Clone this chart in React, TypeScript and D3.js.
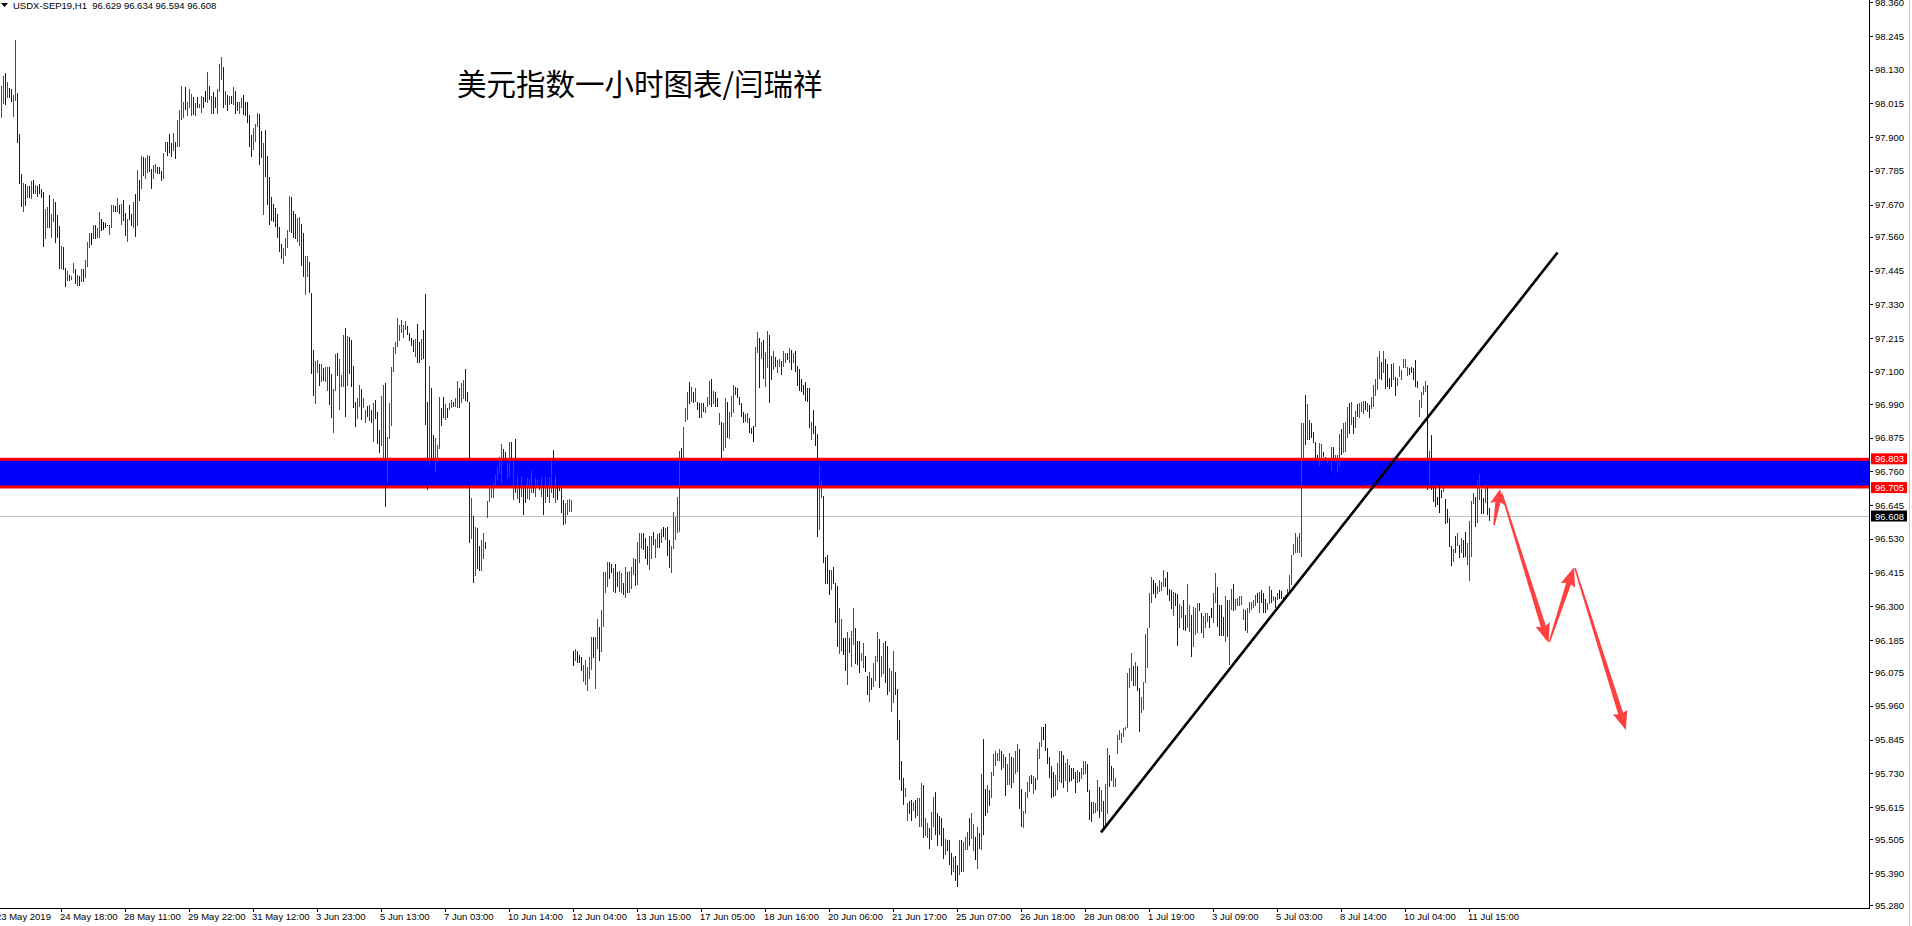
import React from "react";
import * as d3 from "d3";

// hourly bars (high / low per bar)
const highs = [
  // 0-208
  98.074, 98.11, 98.12, 98.088, 98.069, 98.065, 98.044, 98.232, 98.052, 97.912,
  97.775, 97.745, 97.739, 97.733, 97.734, 97.75, 97.753, 97.737, 97.733, 97.741,
  97.722, 97.712, 97.656, 97.661, 97.702, 97.639, 97.689, 97.679, 97.635, 97.597,
  97.529, 97.524, 97.455, 97.443, 97.43, 97.427, 97.472, 97.452, 97.43, 97.426,
  97.451, 97.451, 97.482, 97.543, 97.574, 97.574, 97.601, 97.601, 97.592, 97.645,
  97.622, 97.611, 97.608, 97.599, 97.6, 97.669, 97.669, 97.666, 97.694, 97.67,
  97.673, 97.686, 97.641, 97.622, 97.669, 97.638, 97.679, 97.705, 97.787, 97.754,
  97.837, 97.831, 97.828, 97.841, 97.835, 97.79, 97.806, 97.809, 97.797, 97.797,
  97.785, 97.845, 97.885, 97.885, 97.912, 97.881, 97.916, 97.882, 97.958, 97.994,
  98.075, 98.02, 98.071, 98.021, 98.066, 98.048, 98.036, 98.018, 98.036, 98.013,
  98.041, 98.037, 98.058, 98.122, 98.075, 98.041, 98.053, 98.036, 98.065, 98.15,
  98.173, 98.139, 98.058, 98.044, 98.042, 98.042, 98.071, 98.056, 98.021, 98.019,
  98.035, 98.044, 98.021, 98.021, 97.976, 97.909, 97.93, 97.944, 97.983, 97.979,
  97.92, 97.881, 97.923, 97.837, 97.764, 97.697, 97.673, 97.657, 97.639, 97.594,
  97.535, 97.523, 97.557, 97.584, 97.7, 97.697, 97.647, 97.639, 97.624, 97.627,
  97.603, 97.572, 97.494, 97.496, 97.474, 97.37, 97.175, 97.137, 97.139, 97.126,
  97.125, 97.114, 97.115, 97.117, 97.117, 97.091, 97.042, 97.161, 97.164, 97.144,
  97.089, 97.227, 97.25, 97.223, 97.218, 97.209, 97.12, 96.998, 97.011, 97.055,
  97.042, 97.011, 96.969, 96.983, 96.985, 96.969, 96.993, 97.003, 96.964, 96.902,
  97.016, 97.055, 97.061, 96.877, 96.992, 97.116, 97.184, 97.201, 97.284, 97.261,
  97.277, 97.261, 97.272, 97.255, 97.232, 97.216, 97.209, 97.211, 97.263,
  // 209-389
  97.203, 97.211, 97.242, 97.365, 96.996, 97.12, 97.043, 96.884, 96.873, 96.85,
  97.013, 96.978, 97.015, 96.99, 96.978, 96.992, 97.004, 96.998, 97.009, 97.07,
  97.046, 97.063, 97.072, 97.109, 97.032, 96.997, 96.669, 96.608, 96.572, 96.566,
  96.507, 96.526, 96.549, 96.518, 96.659, 96.714, 96.71, 96.719, 96.748, 96.774,
  96.81, 96.854, 96.837, 96.827, 96.79, 96.86, 96.86, 96.799, 96.871, 96.744,
  96.714, 96.744, 96.702, 96.71, 96.738, 96.735, 96.762, 96.719, 96.738, 96.731,
  96.708, 96.741, 96.719, 96.742, 96.71, 96.742, 96.799, 96.833, 96.744, 96.762,
  96.708, 96.704, 96.663, 96.651, 96.663, 96.665, 96.663, 96.149, 96.154, 96.149,
  96.134, 96.128, 96.1, 96.117, 96.092, 96.128, 96.194, 96.194, 96.194, 96.256,
  96.228, 96.287, 96.418, 96.416, 96.452, 96.452, 96.444, 96.43, 96.444, 96.418,
  96.421, 96.412, 96.378, 96.433, 96.418, 96.421, 96.435, 96.464, 96.46, 96.52,
  96.551, 96.551, 96.551, 96.532, 96.506, 96.54, 96.54, 96.555, 96.528, 96.547,
  96.551, 96.565, 96.572, 96.566, 96.572, 96.526, 96.507, 96.623, 96.606, 96.674,
  96.83, 96.839, 96.913, 96.975, 97.032, 97.064, 97.047, 97.032, 97.043, 96.998,
  96.995, 96.992, 96.995, 96.981, 97.015, 97.07, 97.075, 97.034, 97.032, 97.009,
  96.958, 96.93, 96.924, 97.009, 96.998, 96.964, 97.017, 97.055, 97.047, 97.043,
  97.015, 96.995, 96.964, 96.956, 96.96, 96.941, 96.907, 96.916, 97.186, 97.237,
  97.215, 97.203, 97.208, 97.169, 97.239, 97.225, 97.154, 97.172, 97.149, 97.14,
  97.145,
  // 390-559
  97.135, 97.17, 97.163, 97.165, 97.18, 97.174, 97.163, 97.172, 97.12, 97.109,
  97.077, 97.055, 97.064, 97.043, 97.044, 96.929, 96.97, 96.914, 96.887, 96.777,
  96.727, 96.675, 96.468, 96.474, 96.424, 96.423, 96.433, 96.378, 96.369, 96.294,
  96.256, 96.193, 96.193, 96.212, 96.193, 96.215, 96.294, 96.225, 96.18, 96.18,
  96.142, 96.174, 96.131, 96.064, 96.076, 96.057, 96.105, 96.131, 96.212, 96.19,
  96.129, 96.174, 96.18, 96.165, 96.089, 96.079, 96.146, 96.076, 96.019, 95.912,
  95.773, 95.716, 95.682, 95.63, 95.637, 95.641, 95.634, 95.641, 95.647, 95.647,
  95.697, 95.691, 95.577, 95.561, 95.543, 95.599, 95.649, 95.666, 95.596, 95.586,
  95.577, 95.543, 95.508, 95.504, 95.502, 95.46, 95.445, 95.447, 95.417, 95.504,
  95.502, 95.495, 95.514, 95.531, 95.577, 95.596, 95.558, 95.514, 95.546, 95.527,
  95.729, 95.849, 95.678, 95.691, 95.672, 95.735, 95.796, 95.808, 95.798, 95.814,
  95.805, 95.796, 95.786, 95.763, 95.801, 95.786, 95.783, 95.808, 95.83, 95.814,
  95.678, 95.603, 95.666, 95.7, 95.72, 95.725, 95.72, 95.713, 95.814, 95.836,
  95.889, 95.889, 95.9, 95.817, 95.786, 95.754, 95.735, 95.723, 95.767, 95.805,
  95.808, 95.792, 95.767, 95.779, 95.76, 95.748, 95.748, 95.735, 95.742, 95.735,
  95.748, 95.771, 95.773, 95.763, 95.672, 95.634, 95.634, 95.628, 95.707, 95.685,
  95.672, 95.637, 95.695, 95.817, 95.792, 95.754, 95.75, 95.716, 95.862, 95.877,
  // 560-650
  95.869, 95.884, 95.889, 96.074, 96.091, 96.142, 96.096, 96.111, 96.096, 96.023,
  95.992, 96.043, 96.205, 96.227, 96.344, 96.401, 96.39, 96.381, 96.369, 96.39,
  96.384, 96.424, 96.395, 96.418, 96.358, 96.356, 96.35, 96.344, 96.342, 96.307,
  96.301, 96.321, 96.27, 96.376, 96.304, 96.27, 96.299, 96.293, 96.31, 96.312,
  96.278, 96.267, 96.276, 96.276, 96.267, 96.293, 96.344, 96.412, 96.367, 96.304,
  96.304, 96.262, 96.335, 96.321, 96.321, 96.358, 96.376, 96.326, 96.327, 96.335,
  96.335, 96.29, 96.287, 96.293, 96.316, 96.316, 96.321, 96.338, 96.346, 96.35,
  96.356, 96.346, 96.324, 96.31, 96.369, 96.356, 96.335, 96.331, 96.346, 96.356,
  96.352, 96.331, 96.338, 96.359, 96.407, 96.475, 96.511, 96.551, 96.537, 96.551,
  96.925,
  // 651-744
  96.926, 97.021, 96.99, 96.935, 96.924, 96.896, 96.862, 96.816, 96.856, 96.854,
  96.827, 96.81, 96.805, 96.782, 96.844, 96.842, 96.816, 96.816, 96.888, 96.906,
  96.926, 96.93, 96.981, 96.992, 96.998, 96.944, 96.967, 96.99, 96.992, 96.998,
  97.001, 97.0, 96.995, 96.987, 97.015, 97.055, 97.074, 97.151, 97.172, 97.134,
  97.17, 97.144, 97.126, 97.078, 97.125, 97.131, 97.083, 97.078, 97.121, 97.106,
  97.142, 97.142, 97.115, 97.112, 97.117, 97.112, 97.14, 97.07, 97.004, 97.032,
  97.053, 97.07, 97.055, 96.831, 96.884, 96.708, 96.708, 96.674, 96.717, 96.697,
  96.708, 96.665, 96.632, 96.602, 96.506, 96.494, 96.54, 96.551, 96.509, 96.532,
  96.526, 96.554, 96.515, 96.592, 96.659, 96.685, 96.674, 96.731, 96.751, 96.699,
  96.668, 96.714, 96.708, 96.634,
];

const lows = [
  // 0-208
  97.964, 98.013, 98.01, 98.035, 98.035, 98.02, 97.97, 98.025, 97.879, 97.742,
  97.663, 97.644, 97.667, 97.694, 97.694, 97.689, 97.705, 97.708, 97.696, 97.708,
  97.694, 97.527, 97.553, 97.591, 97.592, 97.555, 97.612, 97.538, 97.555, 97.452,
  97.451, 97.448, 97.389, 97.409, 97.411, 97.413, 97.438, 97.401, 97.394, 97.394,
  97.407, 97.407, 97.42, 97.457, 97.521, 97.534, 97.553, 97.553, 97.555, 97.555,
  97.58, 97.582, 97.59, 97.596, 97.568, 97.589, 97.645, 97.645, 97.645, 97.639,
  97.599, 97.613, 97.564, 97.543, 97.619, 97.597, 97.592, 97.561, 97.596, 97.684,
  97.723, 97.769, 97.756, 97.779, 97.781, 97.722, 97.757, 97.779, 97.776, 97.773,
  97.75, 97.757, 97.848, 97.837, 97.847, 97.832, 97.852, 97.824, 97.865, 97.868,
  97.957, 97.966, 97.992, 97.971, 97.998, 97.974, 97.976, 97.974, 98.001, 97.998,
  97.983, 97.998, 98.021, 98.016, 98.028, 97.98, 97.98, 97.998, 97.98, 98.053,
  98.094, 97.999, 98.009, 97.991, 98.009, 98.013, 98.01, 97.98, 97.988, 97.98,
  97.998, 97.976, 97.974, 97.949, 97.868, 97.834, 97.857, 97.882, 97.935, 97.806,
  97.83, 97.633, 97.763, 97.669, 97.602, 97.613, 97.611, 97.594, 97.557, 97.507,
  97.486, 97.468, 97.496, 97.523, 97.578, 97.574, 97.556, 97.553, 97.543, 97.528,
  97.462, 97.422, 97.363, 97.422, 97.368, 97.094, 97.019, 96.991, 97.097, 97.05,
  97.064, 97.07, 97.066, 97.033, 96.987, 96.941, 96.89, 97.036, 97.085, 96.968,
  97.048, 97.048, 96.944, 97.05, 97.091, 97.048, 96.975, 96.91, 96.938, 96.979,
  96.936, 96.975, 96.926, 96.947, 96.931, 96.924, 96.862, 96.938, 96.853, 96.823,
  96.847, 96.804, 96.64, 96.72, 96.871, 96.916, 97.099, 97.16, 97.184, 97.204,
  97.231, 97.216, 97.243, 97.225, 97.204, 97.188, 97.166, 97.152, 97.13,
  // 209-389
  97.129, 97.14, 97.142, 96.918, 96.697, 96.782, 96.793, 96.799, 96.759, 96.788,
  96.835, 96.915, 96.941, 96.935, 96.941, 96.97, 96.975, 96.979, 96.981, 96.978,
  96.975, 96.992, 97.006, 97.001, 96.998, 96.517, 96.528, 96.378, 96.404, 96.428,
  96.422, 96.422, 96.46, 96.494, 96.602, 96.657, 96.668, 96.668, 96.711, 96.731,
  96.75, 96.719, 96.736, 96.742, 96.733, 96.74, 96.799, 96.663, 96.685, 96.665,
  96.653, 96.674, 96.611, 96.653, 96.665, 96.663, 96.688, 96.685, 96.674, 96.713,
  96.697, 96.674, 96.611, 96.653, 96.672, 96.651, 96.688, 96.668, 96.651, 96.663,
  96.694, 96.619, 96.578, 96.58, 96.611, 96.621, 96.623, 96.096, 96.115, 96.108,
  96.105, 96.08, 96.043, 96.032, 96.012, 96.051, 96.083, 96.123, 96.017, 96.153,
  96.115, 96.145, 96.228, 96.344, 96.365, 96.392, 96.415, 96.35, 96.347, 96.367,
  96.35, 96.347, 96.339, 96.327, 96.344, 96.344, 96.358, 96.407, 96.369, 96.373,
  96.447, 96.497, 96.492, 96.46, 96.441, 96.424, 96.462, 96.509, 96.464, 96.498,
  96.498, 96.515, 96.537, 96.526, 96.473, 96.43, 96.415, 96.494, 96.526, 96.549,
  96.552, 96.725, 96.799, 96.93, 96.935, 96.99, 96.998, 96.995, 96.998, 96.97,
  96.943, 96.943, 96.964, 96.96, 96.981, 96.987, 96.981, 96.99, 96.979, 96.981,
  96.918, 96.805, 96.831, 96.839, 96.873, 96.87, 96.947, 96.958, 97.021, 97.009,
  96.987, 96.945, 96.926, 96.93, 96.926, 96.89, 96.888, 96.862, 96.913, 97.165,
  97.043, 97.144, 97.074, 97.049, 97.112, 96.995, 97.072, 97.106, 97.115, 97.097,
  97.115,
  // 390-559
  97.09, 97.115, 97.129, 97.141, 97.129, 97.106, 97.129, 97.1, 97.053, 97.034,
  97.03, 97.02, 96.999, 96.996, 96.909, 96.868, 96.889, 96.847, 96.536, 96.56,
  96.67, 96.448, 96.376, 96.376, 96.339, 96.354, 96.376, 96.243, 96.161, 96.136,
  96.146, 96.133, 96.08, 96.032, 96.14, 96.092, 96.167, 96.102, 96.099, 96.073,
  96.114, 96.088, 96.076, 95.997, 95.973, 96.013, 96.026, 96.045, 96.11, 96.023,
  96.06, 96.07, 96.038, 95.997, 96.009, 95.94, 95.969, 95.997, 95.845, 95.706,
  95.67, 95.624, 95.651, 95.569, 95.59, 95.569, 95.603, 95.577, 95.584, 95.546,
  95.546, 95.51, 95.518, 95.51, 95.472, 95.504, 95.548, 95.521, 95.483, 95.521,
  95.483, 95.438, 95.451, 95.464, 95.419, 95.382, 95.394, 95.363, 95.341, 95.382,
  95.394, 95.394, 95.47, 95.47, 95.483, 95.508, 95.467, 95.435, 95.404, 95.472,
  95.47, 95.521, 95.584, 95.596, 95.619, 95.647, 95.72, 95.754, 95.771, 95.773,
  95.742, 95.748, 95.653, 95.691, 95.691, 95.682, 95.697, 95.729, 95.735, 95.609,
  95.546, 95.543, 95.59, 95.647, 95.666, 95.695, 95.66, 95.675, 95.707, 95.78,
  95.821, 95.843, 95.805, 95.763, 95.716, 95.647, 95.649, 95.653, 95.675, 95.7,
  95.697, 95.682, 95.704, 95.666, 95.7, 95.704, 95.71, 95.662, 95.697, 95.7,
  95.71, 95.723, 95.729, 95.666, 95.571, 95.565, 95.59, 95.596, 95.603, 95.577,
  95.599, 95.533, 95.552, 95.59, 95.685, 95.704, 95.685, 95.685, 95.796, 95.843,
  // 560-650
  95.835, 95.855, 95.878, 95.884, 96.02, 96.045, 96.029, 96.028, 96.012, 95.872,
  95.937, 95.948, 96.039, 96.091, 96.225, 96.31, 96.341, 96.329, 96.341, 96.35,
  96.353, 96.367, 96.367, 96.338, 96.319, 96.29, 96.267, 96.301, 96.166, 96.225,
  96.259, 96.219, 96.217, 96.225, 96.213, 96.128, 96.162, 96.202, 96.208, 96.285,
  96.208, 96.193, 96.225, 96.248, 96.227, 96.259, 96.242, 96.31, 96.23, 96.2,
  96.2, 96.2, 96.179, 96.196, 96.1, 96.287, 96.284, 96.287, 96.301, 96.301,
  96.304, 96.253, 96.216, 96.21, 96.278, 96.287, 96.293, 96.301, 96.312, 96.276,
  96.312, 96.278, 96.278, 96.287, 96.307, 96.312, 96.319, 96.293, 96.321, 96.324,
  96.325, 96.321, 96.327, 96.338, 96.344, 96.373, 96.475, 96.483, 96.481, 96.481,
  96.468,
  // 651-744
  96.799, 96.85, 96.867, 96.867, 96.873, 96.856, 96.793, 96.805, 96.779, 96.805,
  96.81, 96.799, 96.788, 96.748, 96.763, 96.801, 96.793, 96.759, 96.776, 96.816,
  96.824, 96.827, 96.873, 96.888, 96.918, 96.888, 96.907, 96.944, 96.941, 96.964,
  96.956, 96.97, 96.964, 96.941, 96.973, 96.979, 97.017, 97.038, 97.074, 97.072,
  97.095, 97.04, 97.047, 97.04, 97.049, 97.072, 97.018, 97.051, 97.083, 97.072,
  97.112, 97.112, 97.086, 97.089, 97.095, 97.072, 97.047, 97.046, 96.944, 96.975,
  97.021, 97.032, 96.697, 96.714, 96.697, 96.657, 96.64, 96.645, 96.619, 96.668,
  96.691, 96.58, 96.585, 96.503, 96.437, 96.452, 96.481, 96.506, 96.464, 96.481,
  96.464, 96.469, 96.441, 96.387, 96.469, 96.649, 96.572, 96.583, 96.662, 96.614,
  96.614, 96.651, 96.611, 96.592,
];

// r = up bar, b = down bar, k = unchanged
const barColors = [
  "rrbrbbrrbbbrbrbrkrbbbbrrbrrbbbrbbrbrrbrbrbrrrkrbrrkkbkrrrkrbrbbrbbrbrbrbrrbbrrbb",
  "brrbbbrbrrrrbrrrbrbrrbkrbrbbrrrbrbrbrbbrrbbbbbrrrbbrbbbbbbbbbrrrrbbbrrbbrrbbbrrb",
  "rbrrbbrrbrrrbrbbbbrrbrrbrbrbbbrrbrrrrrrrrrrbbbbrb",
  "brbbbrbbrrrbbrbrrbrrbrrbbbrbrbbrrbrrrrrrrrbbrrbrbrbrbbrrrbrrbrbrbrrbrkbbbrrrrkrb",
  "bbrrrrrbrrbrrrrbbrbbrrbrbrrrbrrrbbbrrbrrbrkrbbrrrrrbrrrbrbrbbrbrrrbrbbrbrrbrrrbb",
  "bbbrrbbkrrbrbrrbbrbrr",
  "brrbrbrbbbbbbbbrbbbrrbbbbrbbbrrkbrbrrbbbrrkbrbrrrbrrbbrrrbbbbbrrbbrbrrrbrrbrrbbb",
  "bbrbbbrbbrbrrrbrrkrbrbkrbrrrrrbrbrrbrrrbbrrrrbrbrrrkbbbbbrrrbbrrbbbbrbrrrbbbrrrb",
  "rbrrbbrrrr",
  "rrrrrrbrbbrrrrrrkbrrrrbbbbrbbrrbbrrbrrrbbrrrbkrrbbbbrbrrbrrrrrbrrrrrbrbbbrrbrbrk",
  "bbrrrrrrrrr",
  "rbrbbbbkrrbbrkrbrrrbrrrbrbrbrrrbrbrrrrrbrbbbbrbrrrrrrbbbbbrrrrbrbbbkkbrbbbbrbrbr",
  "bbrrrrbrrbbrbb",
].join("");

const priceTicks = [
  "98.360", "98.245", "98.130", "98.015", "97.900", "97.785", "97.670",
  "97.560", "97.445", "97.330", "97.215", "97.100", "96.990", "96.875",
  "96.760", "96.645", "96.530", "96.415", "96.300", "96.185", "96.075",
  "95.960", "95.845", "95.730", "95.615", "95.505", "95.390", "95.280",
];

const timeLabels = [
  "23 May 2019", "24 May 18:00", "28 May 11:00", "29 May 22:00",
  "31 May 12:00", "3 Jun 23:00", "5 Jun 13:00", "7 Jun 03:00",
  "10 Jun 14:00", "12 Jun 04:00", "13 Jun 15:00", "17 Jun 05:00",
  "18 Jun 16:00", "20 Jun 06:00", "21 Jun 17:00", "25 Jun 07:00",
  "26 Jun 18:00", "28 Jun 08:00", "1 Jul 19:00", "3 Jul 09:00",
  "5 Jul 03:00", "8 Jul 14:00", "10 Jul 04:00", "11 Jul 15:00",
];
const firstLabelBar = -2;
const barsPerLabel = 32;

const zoneTop = 96.803;
const zoneBottom = 96.705;
const lastPrice = 96.608;
const header = "USDX-SEP19,H1  96.629 96.634 96.594 96.608";
const title = "美元指数一小时图表/闫瑞祥";

// [bar index, price]
const trendFrom = [550, 95.529];
const trendTo = [778.3, 97.507];
const arrowLegs = [
  { from: [746.5, 96.577], to: [749.5, 96.699] },
  { from: [750.4, 96.685], to: [773.7, 96.176] },
  { from: [774.2, 96.179], to: [786.5, 96.433] },
  { from: [787.0, 96.43], to: [812.4, 95.878] },
];

const W = 1912;
const H = 926;
const plotRight = 1869;
const plotBottom = 908;
const axisFont = "'Liberation Sans', Arial, sans-serif";

const colorOf: Record<string, string> = {
  r: "#ff0000",
  b: "#0000ff",
  k: "#000000",
};

function arrowPoints(
  t: [number, number],
  h: [number, number],
  headLen: number,
  headHalf: number,
) {
  const dx = h[0] - t[0];
  const dy = h[1] - t[1];
  const len = Math.hypot(dx, dy);
  const ux = dx / len;
  const uy = dy / len;
  const nx = -uy;
  const ny = ux;
  const bx = h[0] - ux * headLen;
  const by = h[1] - uy * headLen;
  const tail = 0.8;
  const neck = 2.6;
  const pts = [
    [t[0] + nx * tail, t[1] + ny * tail],
    [bx + nx * neck, by + ny * neck],
    [bx + nx * headHalf - ux * 2, by + ny * headHalf - uy * 2],
    [h[0], h[1]],
    [bx - nx * headHalf - ux * 2, by - ny * headHalf - uy * 2],
    [bx - nx * neck, by - ny * neck],
    [t[0] - nx * tail, t[1] - ny * tail],
  ];
  return pts.map((p) => p.join(",")).join(" ");
}

export default function App() {
  const x = d3
    .scaleLinear()
    .domain([0, highs.length - 1])
    .range([1, 1 + 2 * (highs.length - 1)]);
  const y = d3.scaleLinear().domain([95.271, 98.368]).range([plotBottom, 0]);

  const zy1 = y(zoneTop);
  const zy2 = y(zoneBottom);
  const ly = y(lastPrice);

  return (
    <>
      <style>{"body{margin:0;background:#fff}"}</style>
      <svg
        width={W}
        height={H}
        style={{ display: "block", background: "#fff" }}
      >
        {/* header */}
        <polygon points="1,3 8,3 4.5,7" fill="#000" />
        <text
          x={13}
          y={8.5}
          fontFamily={axisFont}
          fontSize={9.5}
          fill="#000"
          style={{ whiteSpace: "pre" }}
        >
          {header}
        </text>

        <text
          x={457}
          y={95}
          fontFamily="'Noto Sans CJK SC', sans-serif"
          fontSize={29.5}
          fill="#000"
        >
          {title}
        </text>

        {/* zone */}
        <rect x={0} y={zy1} width={plotRight} height={zy2 - zy1} fill="#0000ff" />
        <line x1={0} x2={plotRight} y1={zy1 + 0.5} y2={zy1 + 0.5} stroke="#ff0000" strokeWidth={3} />
        <line x1={0} x2={plotRight} y1={zy2 - 0.5} y2={zy2 - 0.5} stroke="#ff0000" strokeWidth={3} />

        {/* current price line */}
        <line
          x1={0}
          x2={plotRight}
          y1={Math.round(ly) + 0.5}
          y2={Math.round(ly) + 0.5}
          stroke="#c0c0c0"
          strokeWidth={1}
        />

        {/* bars */}
        <g shapeRendering="crispEdges">
          {highs.map((h, i) => {
            const top = y(h);
            const bot = y(lows[i]);
            return (
              <rect
                key={i}
                x={Math.round(x(i))}
                y={top}
                width={1}
                height={Math.max(1, bot - top)}
                fill={colorOf[barColors[i]] || "#0000ff"}
              />
            );
          })}
        </g>

        {/* trend line */}
        <line
          x1={x(trendFrom[0])}
          y1={y(trendFrom[1])}
          x2={x(trendTo[0])}
          y2={y(trendTo[1])}
          stroke="#000"
          strokeWidth={2.6}
        />

        {/* projection arrows */}
        {arrowLegs.map((a, i) => (
          <polygon
            key={i}
            points={arrowPoints(
              [x(a.from[0]), y(a.from[1])],
              [x(a.to[0]), y(a.to[1])],
              i === 0 ? 13 : 17,
              7.5,
            )}
            fill="#ff4040"
          />
        ))}

        {/* axes */}
        <g shapeRendering="crispEdges">
          <line x1={plotRight + 0.5} x2={plotRight + 0.5} y1={0} y2={plotBottom + 1} stroke="#000" />
          <line x1={0} x2={plotRight + 1} y1={plotBottom + 0.5} y2={plotBottom + 0.5} stroke="#000" />
          <line x1={1909.5} x2={1909.5} y1={0} y2={H} stroke="#c8c8c8" />
        </g>

        {priceTicks.map((t) => {
          const ty = y(+t);
          return (
            <g key={t}>
              <line
                x1={plotRight}
                x2={plotRight + 4}
                y1={Math.round(ty) + 0.5}
                y2={Math.round(ty) + 0.5}
                stroke="#000"
              />
              <text
                x={plotRight + 6}
                y={ty + 3.5}
                fontFamily={axisFont}
                fontSize={9.5}
                fill="#000"
              >
                {t}
              </text>
            </g>
          );
        })}

        {[
          { v: zoneTop, bg: "#ff0000" },
          { v: zoneBottom, bg: "#ff0000" },
          { v: lastPrice, bg: "#000000" },
        ].map((m) => {
          const my = y(m.v);
          return (
            <g key={m.v}>
              <rect x={plotRight + 2} y={my - 5.5} width={36} height={11} fill={m.bg} />
              <text
                x={plotRight + 6}
                y={my + 3.5}
                fontFamily={axisFont}
                fontSize={9.5}
                fill="#fff"
              >
                {m.v.toFixed(3)}
              </text>
            </g>
          );
        })}

        {timeLabels.map((lab, j) => {
          const tx = x(firstLabelBar + barsPerLabel * j);
          return (
            <g key={lab}>
              {j > 0 && (
                <line
                  x1={Math.round(tx) + 0.5}
                  x2={Math.round(tx) + 0.5}
                  y1={plotBottom}
                  y2={plotBottom + 4}
                  stroke="#000"
                />
              )}
              <text
                x={tx - 1}
                y={920}
                fontFamily={axisFont}
                fontSize={9.5}
                fill="#000"
              >
                {lab}
              </text>
            </g>
          );
        })}
      </svg>
    </>
  );
}
